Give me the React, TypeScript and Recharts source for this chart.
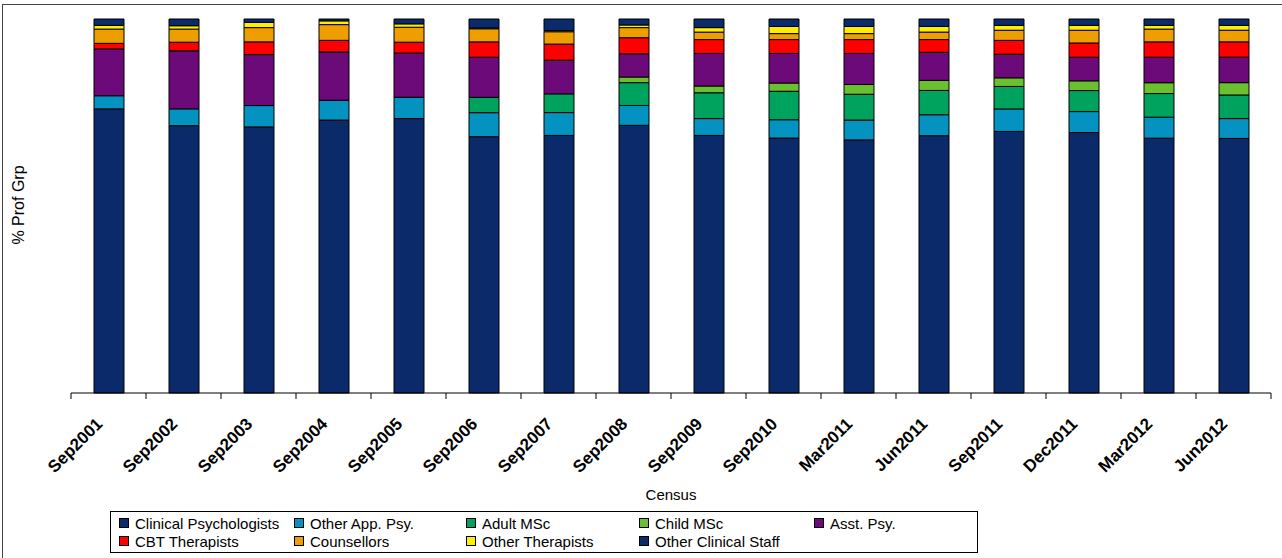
import { BarChart, Bar, XAxis, YAxis } from 'recharts';

const categories = [
  'Sep2001', 'Sep2002', 'Sep2003', 'Sep2004', 'Sep2005', 'Sep2006', 'Sep2007', 'Sep2008',
  'Sep2009', 'Sep2010', 'Mar2011', 'Jun2011', 'Sep2011', 'Dec2011', 'Mar2012', 'Jun2012',
];

// % of professional group (bottom to top)
const clinicalPsychologists = [75.9, 71.4, 71.0, 72.9, 73.3, 68.4, 68.8, 71.5, 68.8, 68.1, 67.6, 68.8, 69.8, 69.5, 68.0, 68.0];
const otherAppPsy = [3.5, 4.5, 5.7, 5.3, 5.7, 6.4, 6.1, 5.3, 4.5, 4.9, 5.3, 5.6, 6.0, 5.6, 5.6, 5.3];
const adultMSc = [0, 0, 0, 0, 0, 4.1, 5.0, 6.1, 6.9, 7.6, 6.9, 6.5, 6.0, 5.6, 6.3, 6.3];
const childMSc = [0, 0, 0, 0, 0, 0, 0, 1.5, 1.8, 2.2, 2.6, 2.7, 2.3, 2.6, 2.9, 3.3];
const asstPsy = [12.5, 15.5, 13.6, 12.9, 11.8, 10.7, 9.0, 6.2, 8.7, 7.9, 8.3, 7.5, 6.3, 6.3, 6.8, 6.8];
const cbtTherapists = [1.5, 2.3, 3.4, 3.1, 2.9, 4.1, 4.3, 4.3, 3.7, 3.7, 3.7, 3.4, 3.7, 3.8, 4.1, 4.1];
const counsellors = [3.8, 3.5, 3.8, 4.2, 4.0, 3.5, 3.3, 2.7, 2.0, 1.6, 1.6, 2.0, 2.7, 3.4, 3.4, 3.1];
const otherTherapists = [1.0, 0.9, 1.4, 1.0, 0.9, 0.2, 0.3, 0.7, 1.2, 1.9, 1.9, 1.5, 1.3, 1.3, 1.0, 1.3];
const otherClinicalStaff = [1.7, 1.8, 0.9, 0.5, 1.3, 2.4, 3.1, 1.6, 2.3, 2.0, 2.0, 2.0, 1.7, 1.7, 1.7, 1.7];

const series = [
  { key: 'clinical', name: 'Clinical Psychologists', color: '#0b2a6a', values: clinicalPsychologists },
  { key: 'otherApp', name: 'Other App. Psy.', color: '#0492c0', values: otherAppPsy },
  { key: 'adult', name: 'Adult MSc', color: '#00a35e', values: adultMSc },
  { key: 'child', name: 'Child MSc', color: '#6bc02f', values: childMSc },
  { key: 'asst', name: 'Asst. Psy.', color: '#6b0a78', values: asstPsy },
  { key: 'cbt', name: 'CBT Therapists', color: '#ff0000', values: cbtTherapists },
  { key: 'couns', name: 'Counsellors', color: '#ee9e00', values: counsellors },
  { key: 'otherTher', name: 'Other Therapists', color: '#ffee00', values: otherTherapists },
  { key: 'ocs', name: 'Other Clinical Staff', color: '#0b2a6a', values: otherClinicalStaff },
];

const data = categories.map((c, i) => {
  const row: Record<string, string | number> = { census: c };
  series.forEach((s) => {
    row[s.key] = s.values[i];
  });
  return row;
});

// legend is laid out row by row, 5 columns
const legendOrder = [
  ['clinical', 'otherApp', 'adult', 'child', 'asst'],
  ['cbt', 'couns', 'otherTher', 'ocs'],
];
const legendColX = [8, 183, 355, 528, 703];

const FONT = "'Liberation Sans', Arial, sans-serif";

// tick label plus the tick marks between categories (Excel style)
const CensusTick = (props: any) => {
  const { x, y, payload, index, visibleTicksCount } = props;
  const half = payload && payload.offset ? payload.offset : 37.5;
  const last = index === visibleTicksCount - 1;
  return (
    <g>
      <line x1={x - half} x2={x - half} y1={y} y2={y + 6} stroke="#000" />
      {last && <line x1={x + half} x2={x + half} y1={y} y2={y + 6} stroke="#000" />}
      <g transform={`translate(${x - 5},${y + 32})`}>
        <text textAnchor="end" transform="rotate(-45)" fontFamily={FONT} fontWeight="bold" fontSize={17} fill="#000">
          {payload.value}
        </text>
      </g>
    </g>
  );
};

export default function App() {
  return (
    <div style={{ position: 'absolute', left: 0, top: 0, width: 1282, height: 558, background: '#fff', fontFamily: FONT }}>
      <div style={{ position: 'absolute', left: 2, top: 4, width: 1300, height: 600, borderTop: '1px solid #444', borderLeft: '1px solid #444' }} />
      <BarChart
        width={1282}
        height={558}
        data={data}
        stackOffset="expand"
        barSize={30}
        margin={{ top: 19, right: 11, left: 0, bottom: 0 }}
        style={{ position: 'absolute', left: 0, top: 0 }}
      >
        <XAxis
          dataKey="census"
          interval={0}
          axisLine={{ stroke: '#000' }}
          tickLine={false}
          tickSize={0}
          tickMargin={0}
          height={165}
          tick={<CensusTick />}
          label={(p: any) => {
            const vb = p.viewBox || {};
            const cx = (vb.x ?? 71) + (vb.width ?? 1200) / 2;
            return (
              <text x={cx} y={500} textAnchor="middle" fontFamily={FONT} fontSize={15} fill="#000">
                Census
              </text>
            );
          }}
        />
        <YAxis
          width={71}
          domain={[0, 1]}
          axisLine={false}
          tickLine={false}
          tick={false}
          label={() => (
            <text x={18} y={205} transform="rotate(-90 18 205)" textAnchor="middle" dominantBaseline="central" fontFamily={FONT} fontSize={16} fill="#000">
              % Prof Grp
            </text>
          )}
        />
        {series.map((s) => (
          <Bar
            key={s.key}
            dataKey={s.key}
            name={s.name}
            stackId="a"
            fill={s.color}
            stroke="#000"
            strokeWidth={1}
            isAnimationActive={false}
          />
        ))}
      </BarChart>
      <div
        style={{
          position: 'absolute',
          left: 110,
          top: 511,
          width: 868,
          height: 42,
          border: '1px solid #000',
          boxSizing: 'border-box',
        }}
      >
        {legendOrder.map((row, r) =>
          row.map((k, c) => {
            const s = series.find((d) => d.key === k)!;
            return (
              <div
                key={k}
                style={{
                  position: 'absolute',
                  left: legendColX[c],
                  top: 2 + r * 18,
                  height: 18,
                  display: 'flex',
                  alignItems: 'center',
                  whiteSpace: 'nowrap',
                  fontSize: 15,
                  color: '#000',
                }}
              >
                <span
                  style={{
                    display: 'inline-block',
                    width: 8,
                    height: 8,
                    background: s.color,
                    border: '1px solid #000',
                    marginRight: 6,
                  }}
                />
                {s.name}
              </div>
            );
          })
        )}
      </div>
    </div>
  );
}
